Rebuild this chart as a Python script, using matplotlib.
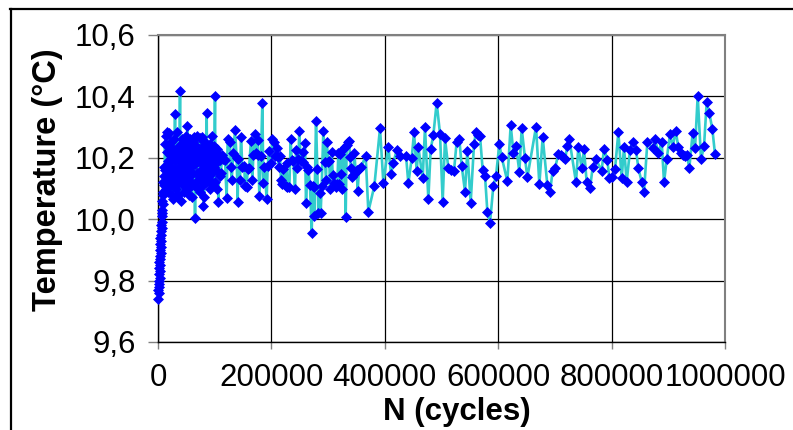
import matplotlib
matplotlib.use("Agg")
import matplotlib.pyplot as plt
from matplotlib.lines import Line2D
from matplotlib.ticker import FuncFormatter, MultipleLocator

# ---------------- data ----------------
ramp_n = [300, 1800, 500, 2400, 900, 2900, 1300, 3300, 1600, 3700, 2000, 4100,
          2300, 4500, 2700, 5000, 3100, 5400, 3500, 5900, 4000, 6400, 4600,
          7000, 5300, 7600, 6200, 8300, 7000, 9000, 7900, 9800, 8800, 10600,
          9700, 11400]
ramp_t = [9.74, 9.76, 9.77, 9.79, 9.78, 9.81, 9.80, 9.83, 9.82, 9.85, 9.84, 9.87,
          9.86, 9.89, 9.88, 9.91, 9.90, 9.93, 9.92, 9.95, 9.94, 9.97, 9.96,
          9.99, 9.98, 10.02, 10.01, 10.05, 10.03, 10.08, 10.06, 10.11, 10.09,
          10.14, 10.12, 10.17]

dense_n = [12000, 12400, 13200, 14100, 14800, 15300, 16000, 16700, 17400, 18100,
           18800, 19400, 20000, 20700, 21400, 22100, 22800, 23500, 24200, 24900,
           25600, 26300, 27000, 27700, 28400, 29200, 30000, 30700, 31400, 32100,
           32900, 33600, 34300, 35000, 35900, 36600, 37300, 38000, 38800, 39500,
           40200, 40900, 41600, 42300, 43000, 43700, 44400, 45100, 45800, 46500,
           47200, 47900, 48600, 49300, 50000, 50600, 51700, 52400, 53100, 53800,
           54500, 55200, 55900, 56600, 57300, 58000, 58700, 59400, 60100, 60800,
           61500, 62200, 62900, 63600, 64100, 65300, 66000, 66700, 67400, 68100,
           68800, 69500, 70200, 70900, 71600, 72300, 73000, 73700, 74100, 75000,
           75700, 76400, 77000, 77800, 78500, 79200, 80000, 80700, 81150, 81900,
           82600, 83300, 84000, 84700, 85850, 86500, 87200, 87900, 88800, 89500,
           90200, 91000, 91700, 92400, 93100, 93800, 94500, 95200, 95900, 96600,
           97300, 98000, 98700, 99400, 100500, 101300, 102100, 103000, 103800,
           104600, 105500, 106400, 107500, 108500, 109400, 111000, 113000, 115300]
dense_t = [10.16, 10.245, 10.12, 10.271, 10.10, 10.285, 10.14, 10.22, 10.09, 10.19,
           10.13, 10.24, 10.280, 10.15, 10.21, 10.11, 10.25, 10.17, 10.08, 10.20,
           10.065, 10.23, 10.14, 10.26, 10.12, 10.19, 10.343, 10.16, 10.22, 10.10,
           10.285, 10.15, 10.20, 10.08, 10.117, 10.24, 10.17, 10.21, 10.419, 10.13,
           10.19, 10.06, 10.23, 10.15, 10.26, 10.11, 10.20, 10.17, 10.09, 10.25,
           10.14, 10.21, 10.12, 10.27, 10.18, 10.22, 10.304, 10.10, 10.24, 10.16,
           10.20, 10.08, 10.26, 10.14, 10.21, 10.17, 10.12, 10.071, 10.23, 10.15,
           10.25, 10.19, 10.11, 10.22, 10.269, 10.003, 10.18, 10.24, 10.12, 10.21,
           10.15, 10.27, 10.10, 10.19, 10.23, 10.14, 10.20, 10.09, 10.263, 10.16,
           10.22, 10.13, 10.269, 10.18, 10.11, 10.24, 10.043, 10.20, 10.073, 10.22,
           10.15, 10.25, 10.12, 10.20, 10.345, 10.17, 10.23, 10.14, 10.133, 10.21,
           10.16, 10.10, 10.245, 10.19, 10.12, 10.22, 10.18, 10.27, 10.15, 10.21,
           10.11, 10.24, 10.17, 10.20, 10.401, 10.12, 10.20, 10.16, 10.23,
           10.10, 10.19, 10.057, 10.21, 10.14, 10.193, 10.15, 10.21, 10.195]

sparse_n = [118170, 121110, 122874, 126990, 128170, 129930, 132870, 135810, 138750,
            140514, 141690, 144630, 146394, 148746, 152274, 153450, 156390, 158154,
            160506, 164034, 166386, 168150, 171090, 172266, 175794, 176970, 178734,
            181674, 184026, 185790, 187554, 191670, 193434, 195786, 199314, 201666,
            205194, 206370, 209310, 211074, 213426, 215190, 216954, 219306, 221070,
            225754, 226930, 228106, 231634, 233986, 235750, 238690, 241630, 243394,
            245746, 247510, 249274, 251626, 255154, 256330, 259270, 261034, 263386,
            265150, 268090, 271030, 272794, 275146, 275734, 278674, 281026, 282790,
            285730, 286906, 288670, 291610, 294550, 296314, 297490, 300430, 302194,
            303370, 306310, 308074, 310426, 313954, 316306, 318070,
            319226, 320990, 322754, 325106, 326870, 329810, 330986, 332750, 334514,
            336866, 338630, 340394, 342746, 344510, 346274, 348626, 350390, 352154,
            354506, 358034, 366266, 370970, 381554, 391550, 397430, 406250, 410954,
            415070, 420980, 426860, 437444, 441560, 447440, 451556, 456260, 459200,
            466794, 470910, 476790, 480906, 485610, 491490, 497370, 502074, 506190,
            512070, 516186, 522066, 526770, 531474, 535590, 541470, 545586, 551466,
            557346, 560874, 564990, 567930, 572634, 576750, 580866, 585570, 591450,
            596154, 602034, 606150, 616146, 622026, 626730, 631434, 637314, 641430,
            647310, 651426, 666714, 672594, 678474, 686706, 691410, 696114, 700230,
            706110, 710226, 714930, 717870, 721986, 725514,
            737224, 741340, 747220, 751336, 756040, 761920, 766624, 772504, 782500,
            786616, 792496, 796024, 800140, 806020, 811900, 817780, 821896, 826600,
            832480, 837184, 843064, 847180, 853060, 857176, 863056, 872464, 876580,
            882460, 888340, 892456, 897160, 903040, 907744, 913036, 917740, 921856,
            926560, 929500, 932440, 937144, 943024, 947140, 951844, 957724, 963016,
            967720, 972424, 977716, 982420]
sparse_t = [10.193, 10.068, 10.260, 10.253, 10.171, 10.128, 10.215, 10.291, 10.198,
            10.057, 10.195, 10.128, 10.267, 10.169, 10.173, 10.108, 10.106, 10.162,
            10.166, 10.256, 10.128, 10.209, 10.278, 10.215, 10.258, 10.209, 10.076,
            10.206, 10.380, 10.119, 10.169, 10.067, 10.173, 10.223, 10.184, 10.260,
            10.253, 10.206, 10.231, 10.202, 10.169, 10.206, 10.128, 10.115, 10.162,
            10.108, 10.184, 10.106, 10.104, 10.260, 10.193, 10.191, 10.100, 10.225,
            10.166, 10.195, 10.288, 10.191, 10.187, 10.220, 10.249, 10.054, 10.169,
            10.160, 10.111, 9.954, 10.108, 10.104, 10.010, 10.321, 10.162, 10.019,
            10.084, 10.021, 10.108, 10.288, 10.187, 10.128, 10.253, 10.187, 10.191,
            10.100, 10.220, 10.144, 10.119, 10.104, 10.115, 10.215,
            10.115, 10.212, 10.147, 10.100, 10.228, 10.236, 10.006, 10.242, 10.253,
            10.256, 10.204, 10.166, 10.136, 10.144, 10.217, 10.155, 10.160, 10.093,
            10.162, 10.169, 10.206, 10.025, 10.108, 10.296, 10.119, 10.236, 10.147,
            10.184, 10.225, 10.206, 10.206, 10.117, 10.198, 10.283, 10.156, 10.234,
            10.133, 10.299, 10.065, 10.228, 10.274, 10.380, 10.278, 10.057, 10.263,
            10.166, 10.160, 10.158, 10.253, 10.260, 10.174, 10.090, 10.223, 10.054,
            10.245, 10.285, 10.274, 10.271, 10.160, 10.141, 10.025, 9.989, 10.108,
            10.141, 10.245, 10.202, 10.124, 10.307, 10.217, 10.238, 10.155, 10.296,
            10.198, 10.136, 10.301, 10.114, 10.267, 10.111, 10.090, 10.158, 10.166,
            10.212, 10.209, 10.202, 10.195, 10.238, 10.260,
            10.120, 10.236, 10.166, 10.229, 10.120, 10.101, 10.169, 10.195, 10.158,
            10.230, 10.193, 10.133, 10.136, 10.162, 10.283, 10.133, 10.234, 10.122,
            10.225, 10.253, 10.225, 10.166, 10.122, 10.090, 10.250, 10.231, 10.261,
            10.215, 10.253, 10.120, 10.195, 10.278, 10.234, 10.288, 10.234, 10.217,
            10.209, 10.206, 10.209, 10.168, 10.282, 10.231, 10.402, 10.195, 10.238,
            10.381, 10.345, 10.293, 10.211]

cycles = ramp_n + dense_n + sparse_n
temperature = ramp_t + dense_t + sparse_t

x_ticks = [0, 200000, 400000, 600000, 800000, 1000000]
y_label = "Temperature (°C)"
x_label = "N (cycles)"

# ---------------- figure ----------------
plt.rcParams['font.family'] = ['Liberation Sans', 'DejaVu Sans']

fig = plt.figure(figsize=(7.93, 4.30), dpi=100)
ax = fig.add_axes([158 / 793, 1 - 342 / 430, (725 - 158) / 793, (342 - 35) / 430])

ax.plot(cycles, temperature, color='#33CCCC', lw=1.9, marker='D',
        markersize=4.8, markerfacecolor='#0000FF', markeredgecolor='#0000FF',
        markeredgewidth=0.5, zorder=3, clip_on=False)

ax.set_xlim(0, 1000000)
ax.set_ylim(9.6, 10.6)
ax.set_xticks(x_ticks)
ax.yaxis.set_major_locator(MultipleLocator(0.2))
ax.yaxis.set_major_formatter(FuncFormatter(lambda v, p: f"{v:.1f}".replace('.', ',')))
ax.xaxis.set_major_formatter(FuncFormatter(lambda v, p: f"{int(round(v))}"))

ax.grid(True, axis='both', color='black', lw=0.9, zorder=1)
ax.set_axisbelow(True)

for side in ('top', 'right'):
    ax.spines[side].set_color('#808080')
    ax.spines[side].set_linewidth(1.5)
for side in ('left', 'bottom'):
    ax.spines[side].set_color('black')
    ax.spines[side].set_linewidth(1.0)

ax.tick_params(axis='y', direction='out', length=7, width=1, color='#808080',
               labelsize=22.5, pad=9)
ax.tick_params(axis='x', direction='out', length=5, width=1, color='#808080',
               labelsize=22.5, pad=10)

ax.set_ylabel(y_label, fontsize=23.5, fontweight='bold')
ax.set_xlabel(x_label, fontsize=22.5, fontweight='bold')
ax.yaxis.set_label_coords(-0.168, 0.53)
ax.xaxis.set_label_coords(0.527, -0.180)

# outer chart border (top and left edges visible)
fig.add_artist(Line2D([10 / 793, 1.0], [1 - 9 / 430, 1 - 9 / 430],
                      transform=fig.transFigure, color='black', lw=1.6))
fig.add_artist(Line2D([11 / 793, 11 / 793], [0, 1 - 9 / 430],
                      transform=fig.transFigure, color='black', lw=1.6))

fig.savefig("out.png", dpi=100)
